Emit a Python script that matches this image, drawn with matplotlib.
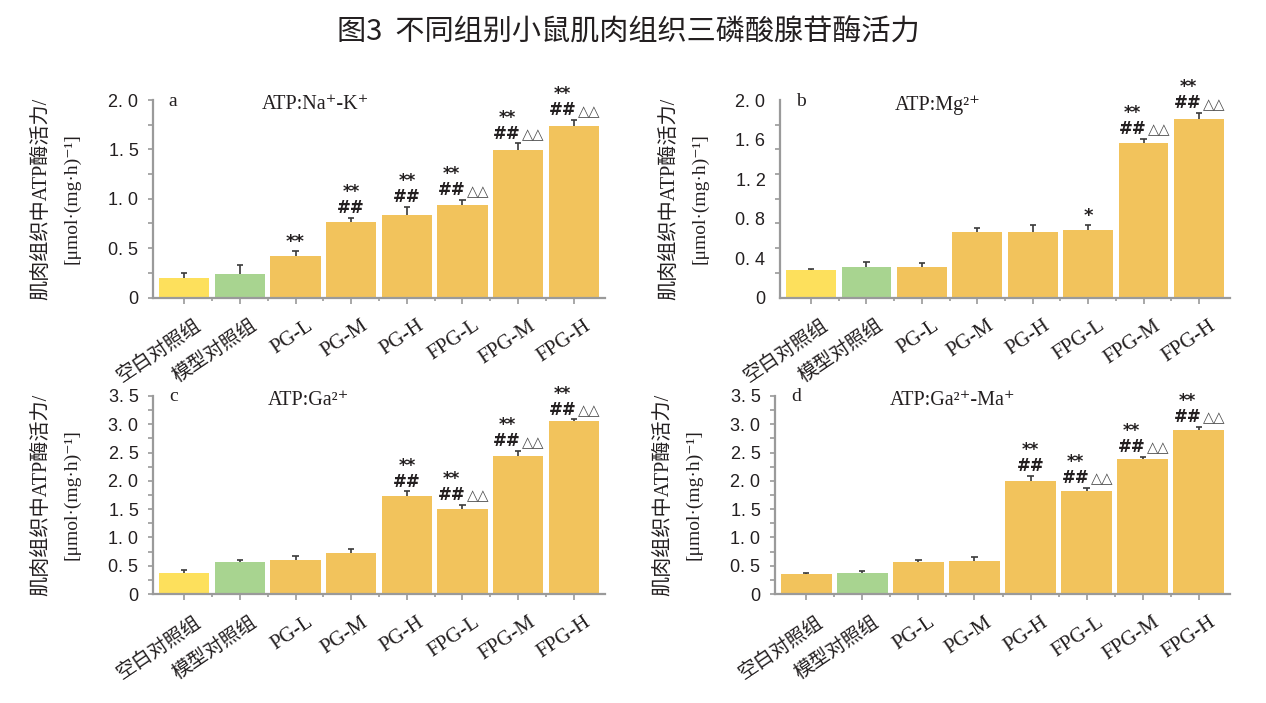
import numpy as np
import matplotlib
matplotlib.use("Agg")
import matplotlib.pyplot as plt
from matplotlib.transforms import ScaledTranslation

plt.rcParams["font.family"] = ["Liberation Sans", "DejaVu Sans", "Noto Sans CJK SC"]

# data
groups = ["空白对照组", "模型对照组", "PG-L", "PG-M", "PG-H", "FPG-L", "FPG-M", "FPG-H"]

a_vals = [0.20, 0.24, 0.42, 0.76, 0.84, 0.94, 1.49, 1.74]
a_err = [0.05, 0.09, 0.05, 0.05, 0.08, 0.05, 0.07, 0.06]
a_marks = ["", "", "**", "**|##", "**|##", "**|##|△△", "**|##|△△", "**|##|△△"]

b_vals = [0.28, 0.31, 0.31, 0.66, 0.66, 0.68, 1.56, 1.81]
b_err = [0.01, 0.05, 0.04, 0.04, 0.07, 0.05, 0.05, 0.06]
b_marks = ["", "", "", "", "", "*", "**|##|△△", "**|##|△△"]

c_vals = [0.38, 0.57, 0.60, 0.72, 1.74, 1.51, 2.44, 3.05]
c_err = [0.04, 0.04, 0.07, 0.07, 0.08, 0.07, 0.09, 0.04]
c_marks = ["", "", "", "", "**|##", "**|##|△△", "**|##|△△", "**|##|△△"]

d_vals = [0.35, 0.38, 0.57, 0.59, 2.00, 1.82, 2.39, 2.90]
d_err = [0.03, 0.03, 0.04, 0.06, 0.09, 0.06, 0.04, 0.06]
d_marks = ["", "", "", "", "**|##", "**|##|△△", "**|##|△△", "**|##|△△"]

YELLOW, GREEN, ORANGE = "#FDE05C", "#A8D490", "#F2C35C"
AXC = "#9a9a9a"
TXT = "#231F20"
SERIF = ["Liberation Serif", "DejaVu Serif", "Noto Sans CJK SC"]

fig = plt.figure(figsize=(12.66, 7.03), dpi=100)
fig.text(0.4965, 1 - 33 / 703, "图3  不同组别小鼠肌肉组织三磷酸腺苷酶活力",
         ha="center", va="center", fontsize=21, color=TXT,
         family=["Noto Sans CJK SC", "DejaVu Sans"])

panels = [
    dict(rect=[153 / 1266, 0.5768, 452 / 1266, 0.2809], vals=a_vals, err=a_err, marks=a_marks,
         ymax=2.0, labels=np.arange(0, 2.01, 0.5), letter="a", title="ATP:Na⁺-K⁺",
         tx=0.36, first=YELLOW),
    dict(rect=[780 / 1266, 0.5768, 450 / 1266, 0.2809], vals=b_vals, err=b_err, marks=b_marks,
         ymax=2.0, labels=np.arange(0, 2.01, 0.4), letter="b", title="ATP:Mg²⁺",
         tx=0.35, first=YELLOW),
    dict(rect=[153 / 1266, 0.1550, 452 / 1266, 0.2817], vals=c_vals, err=c_err, marks=c_marks,
         ymax=3.5, labels=np.arange(0, 3.51, 0.5), letter="c", title="ATP:Ga²⁺",
         tx=0.345, first=YELLOW),
    dict(rect=[775 / 1266, 0.1550, 455 / 1266, 0.2817], vals=d_vals, err=d_err, marks=d_marks,
         ymax=3.5, labels=np.arange(0, 3.51, 0.5), letter="d", title="ATP:Ga²⁺-Ma⁺",
         tx=0.39, first=ORANGE),
]


def fmt(v):
    if abs(v) < 1e-9:
        return "0"
    return f"{v:.1f}".replace(".", ". ")


def px(p):
    # pixels -> points at dpi 100
    return p * 0.72


for p in panels:
    ax = fig.add_axes(p["rect"])
    x = np.arange(len(groups))
    vals = np.array(p["vals"])
    tops = vals + np.array(p["err"])
    colors = [p["first"], GREEN] + [ORANGE] * 6
    ax.bar(x, vals, width=0.9, color=colors, edgecolor="none", zorder=2)
    # upper half error bars only
    ax.vlines(x, vals, tops, color="#3a3a3a", linewidth=1.2, zorder=3)
    ax.hlines(tops, x - 0.055, x + 0.055, color="#3a3a3a", linewidth=1.2, zorder=3)

    ax.set_xlim(-0.56, 7.56)
    ax.set_ylim(0, p["ymax"])
    for s in ["top", "right"]:
        ax.spines[s].set_visible(False)
    for s in ["left", "bottom"]:
        ax.spines[s].set_color(AXC)
        ax.spines[s].set_linewidth(1.6)

    # y ticks: marks every 0.25, labels at the printed values
    ax.set_yticks(p["labels"])
    ax.set_yticklabels([fmt(v) for v in p["labels"]])
    ax.set_yticks(np.arange(0, p["ymax"] + 0.01, 0.25), minor=True)
    ax.tick_params(axis="y", which="major", length=0, pad=10.5, labelsize=13, labelcolor=TXT)
    ax.tick_params(axis="y", which="minor", length=3.5, width=1.2, color=AXC)
    if p["letter"] != "b":
        ax.tick_params(axis="y", which="major", length=3.5, width=1.2, color=AXC, pad=7)

    ax.set_xticks(x)
    ax.set_xticklabels(groups, rotation=34, ha="right", va="top", rotation_mode="anchor",
                       fontsize=15, color=TXT, family=SERIF)
    for lab in ax.get_xticklabels()[:2]:
        lab.set_fontsize(14)
    ax.set_xticks(np.arange(0.5, 7, 1), minor=True)
    ax.tick_params(axis="x", which="major", length=4.5, width=1.2, color=AXC, pad=9)
    ax.tick_params(axis="x", which="minor", length=2.5, width=1.2, color=AXC)
    for lab in ax.get_xticklabels():
        lab.set_transform(lab.get_transform() + ScaledTranslation(10 / 100, 0, fig.dpi_scale_trans))

    ax.text(0.035, 0.995, p["letter"], transform=ax.transAxes, ha="left", va="center",
            fontsize=14, color=TXT, family=SERIF)
    ax.text(p["tx"], 0.975, p["title"], transform=ax.transAxes, ha="center", va="center",
            fontsize=14.5, color=TXT, family=SERIF)

    ax.text(-111 / 452, 0.5, "肌肉组织中ATP酶活力/", transform=ax.transAxes, rotation=90,
            ha="center", va="center", fontsize=14.5, color=TXT, family=SERIF)
    ax.text(-81 / 452, 0.5, "[μmol·(mg·h)⁻¹]", transform=ax.transAxes, rotation=90,
            ha="center", va="center", fontsize=14, color=TXT, family=SERIF)

    # significance marks above the error bars
    for i, m in enumerate(p["marks"]):
        if not m:
            continue
        parts = m.split("|")
        if len(parts) == 1:
            ax.annotate(parts[0], (i, tops[i]), xytext=(0, px(0.5)), textcoords="offset points",
                        ha="center", va="bottom", fontsize=13, fontweight="bold",
                        color=TXT, family="DejaVu Sans")
            continue
        dx = 0
        if len(parts) == 3:
            dx = px(-11)
            ax.annotate(parts[2], (i, tops[i]), xytext=(px(4), px(4)), textcoords="offset points",
                        ha="left", va="baseline", fontsize=10.5, color="#4a4a4a",
                        family="DejaVu Sans")
        ax.annotate(parts[0] + "\n" + parts[1], (i, tops[i]), xytext=(dx, px(0.5)),
                    textcoords="offset points", ha="center", va="bottom",
                    multialignment="center", linespacing=0.85, fontsize=12,
                    fontweight="bold", color=TXT, family="DejaVu Sans")

fig.savefig("out.png", dpi=100)
